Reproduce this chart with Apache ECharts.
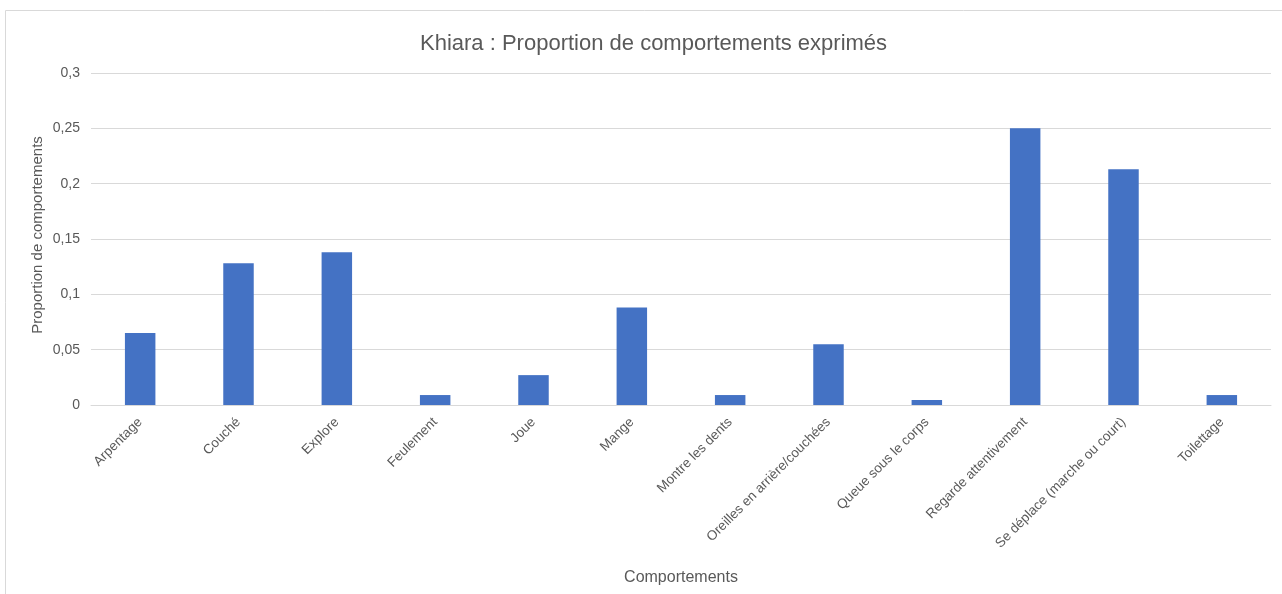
<!DOCTYPE html>
<html>
<head>
<meta charset="utf-8">
<script src="https://cdn.jsdelivr.net/npm/echarts@6/dist/echarts.min.js"></script>
<style>
  html, body { margin: 0; padding: 0; background: #fff; }
  #chart { width: 1282px; height: 594px; }
</style>
</head>
<body>
<div id="chart"></div>
<script>
// comportements observés
var categories = ['Arpentage', 'Couché', 'Explore', 'Feulement', 'Joue', 'Mange',
  'Montre les dents', 'Oreilles en arrière/couchées', 'Queue sous le corps',
  'Regarde attentivement', 'Se déplace (marche ou court)', 'Toilettage'];
// proportions
var proportions = [0.065, 0.128, 0.138, 0.009, 0.027, 0.088, 0.009, 0.055, 0.0045, 0.25, 0.213, 0.009];

var txt = '#595959';
var font = '"Liberation Sans", Arial, sans-serif';

var chart = echarts.init(document.getElementById('chart'));
chart.setOption({
  animation: false,
  textStyle: { fontFamily: font },
  title: {
    text: 'Khiara : Proportion de comportements exprimés',
    left: 415,
    top: 28,
    textStyle: { color: txt, fontSize: 22, fontWeight: 'normal', fontFamily: font }
  },
  graphic: [{
    type: 'rect',
    shape: { x: 5.5, y: 10.5, width: 1300, height: 620 },
    style: { fill: 'none', stroke: '#d9d9d9', lineWidth: 1 },
    silent: true
  }, {
    // titre de l'axe vertical
    type: 'text',
    x: 38,
    y: 235,
    rotation: Math.PI / 2,
    style: {
      text: 'Proportion de comportements',
      fill: txt,
      font: '15px ' + font,
      align: 'center',
      verticalAlign: 'middle'
    },
    silent: true
  }],
  grid: { left: 91, right: 11, top: 73, bottom: 189 },
  xAxis: {
    type: 'category',
    data: categories,
    name: 'Comportements',
    nameLocation: 'middle',
    nameGap: 165,
    nameTextStyle: { color: txt, fontSize: 16 },
    axisLine: { lineStyle: { color: '#d9d9d9', width: 1 } },
    axisTick: { show: false },
    axisLabel: { rotate: 45, color: txt, fontSize: 13.5, interval: 0, margin: 15 }
  },
  yAxis: {
    type: 'value',
    min: 0,
    max: 0.3,
    interval: 0.05,
    axisLine: { show: false },
    axisTick: { show: false },
    splitLine: { lineStyle: { color: '#d9d9d9', width: 1 } },
    axisLabel: {
      color: txt, fontSize: 14, margin: 11,
      formatter: function (v) { return String(+v.toFixed(2)).replace('.', ','); }
    }
  },
  series: [{
    type: 'bar',
    data: proportions,
    barWidth: '31%',
    itemStyle: { color: '#4472C4' }
  }]
});
</script>
</body>
</html>
